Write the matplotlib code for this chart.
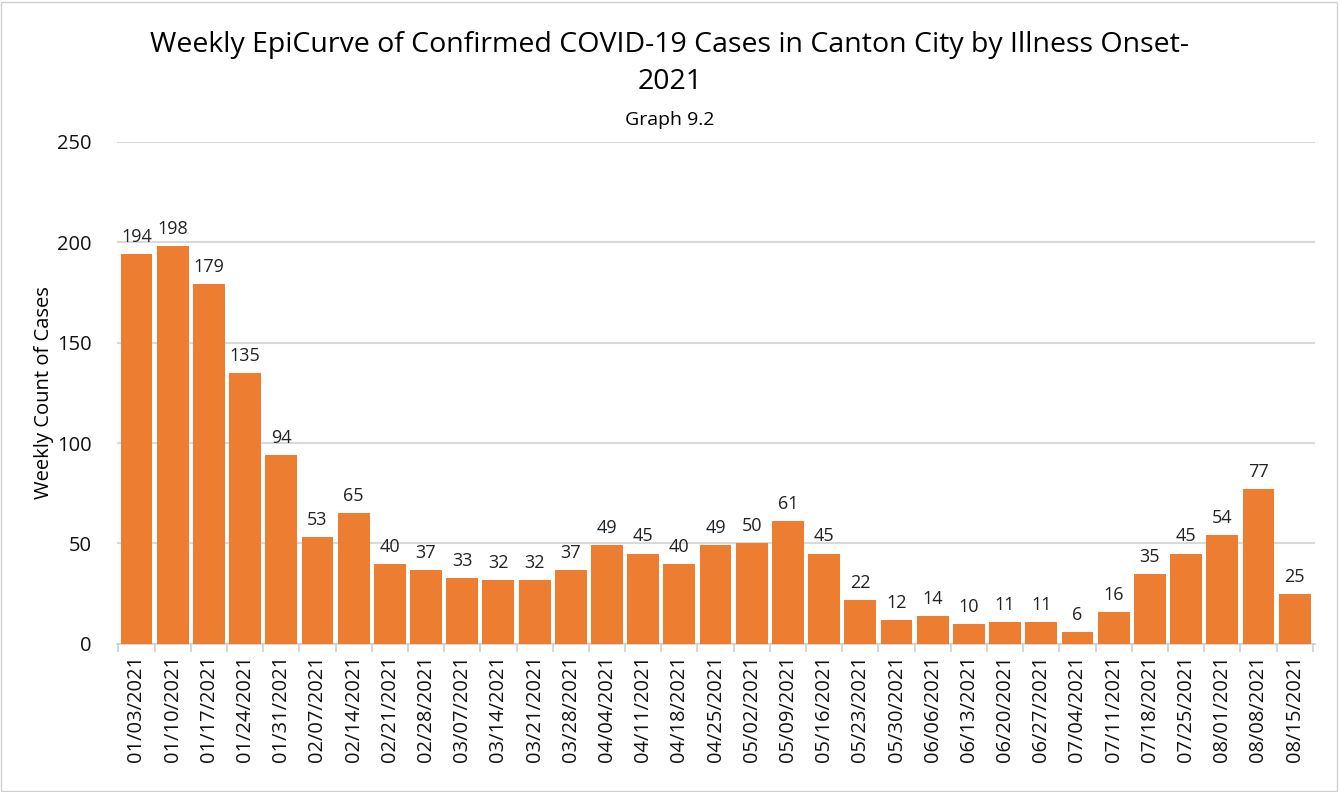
import matplotlib
matplotlib.use("Agg")
from matplotlib import pyplot as plt
import numpy as np

weeks = ["01/03/2021", "01/10/2021", "01/17/2021", "01/24/2021", "01/31/2021", "02/07/2021",
         "02/14/2021", "02/21/2021", "02/28/2021", "03/07/2021", "03/14/2021", "03/21/2021",
         "03/28/2021", "04/04/2021", "04/11/2021", "04/18/2021", "04/25/2021", "05/02/2021",
         "05/09/2021", "05/16/2021", "05/23/2021", "05/30/2021", "06/06/2021", "06/13/2021",
         "06/20/2021", "06/27/2021", "07/04/2021", "07/11/2021", "07/18/2021", "07/25/2021",
         "08/01/2021", "08/08/2021", "08/15/2021"]
cases = [194, 198, 179, 135, 94, 53, 65, 40, 37, 33, 32, 32, 37, 49, 45, 40, 49, 50,
         61, 45, 22, 12, 14, 10, 11, 11, 6, 16, 35, 45, 54, 77, 25]

plt.rcParams['font.family'] = ['Open Sans', 'DejaVu Sans']

fig = plt.figure(figsize=(13.4, 7.92), dpi=100)
ax = fig.add_axes([0.087, 0.187, 0.894, 0.634])

x = np.arange(len(weeks))
ax.bar(x, cases, width=0.88, color='#ED7D31', zorder=3)
for xi, v in zip(x, cases):
    ax.text(xi, v + 4, str(v), ha='center', va='bottom', fontsize=13, color='#222222')

ax.set_xlim(-0.55, len(weeks) - 0.45)
ax.set_ylim(0, 250)
ax.set_yticks(range(0, 251, 50))
ax.yaxis.grid(True, color='#D9D9D9', linewidth=1.5, zorder=0)
ax.set_xticks(x)
ax.set_xticklabels(weeks, rotation=90, fontsize=14.5)
ax.set_xticks(np.arange(len(weeks) + 1) - 0.5, minor=True)
ax.tick_params(axis='y', labelsize=14.5, length=0, pad=18, labelcolor='#111111')
ax.tick_params(axis='x', which='major', length=0, pad=8, labelcolor='#111111')
ax.tick_params(axis='x', which='minor', length=6, width=1.2, color='#D0D0D0')
for s in ['top', 'right', 'left']:
    ax.spines[s].set_visible(False)
ax.spines['bottom'].set_color('#D0D0D0')
ax.spines['bottom'].set_linewidth(1.2)
ax.set_ylabel('Weekly Count of Cases', fontsize=14.5, labelpad=2)

fig.text(0.5, 0.943, 'Weekly EpiCurve of Confirmed COVID-19 Cases in Canton City by Illness Onset-',
         ha='center', va='center', fontsize=20.5)
fig.text(0.5, 0.896, '2021', ha='center', va='center', fontsize=20.5)
fig.text(0.5, 0.848, 'Graph 9.2', ha='center', va='center', fontsize=14)

fig.patches.append(plt.Rectangle((0.001, 0.001), 0.997, 0.997, transform=fig.transFigure,
                                 fill=False, edgecolor='#D0D0D0', linewidth=1))

plt.savefig('out.png', dpi=100)
